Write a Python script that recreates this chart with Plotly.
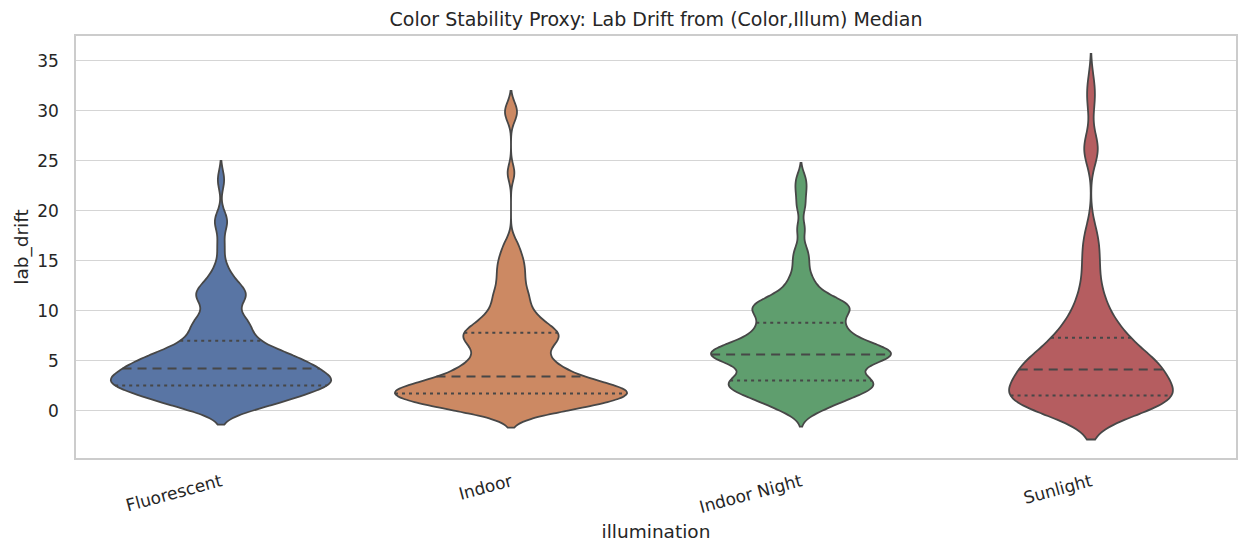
import numpy as np
import plotly.graph_objects as go

illuminations = ['Fluorescent', 'Indoor', 'Indoor Night', 'Sunlight']
colors = ['#5975a4', '#cc8963', '#5f9e6e', '#b55d60']
edge = '#474747'

# lab drift values and number of samples with that value
fluorescent_drift = [0.5, 1.0, 1.5, 2.0, 2.5, 3.0, 3.5, 4.2, 4.5, 5.0, 5.5, 6.0, 6.5, 7.0, 7.5, 8.0,
                     8.5, 9.0, 9.5, 10.0, 11.0, 11.5, 12.0, 12.5, 13.0, 13.5, 14.5, 16.5, 18.7, 19.2, 23.1]
fluorescent_count = [6, 5, 4, 6, 9, 10, 8, 6, 6, 6, 5, 4, 3, 2, 2, 2,
                     2, 3, 1, 1, 2, 3, 2, 1, 1, 1, 1, 1, 1, 1, 1]

indoor_drift = [0.0, 0.5, 1.0, 1.7, 2.0, 2.5, 3.0, 3.4, 4.0, 4.5, 5.0, 5.5, 6.0, 6.5, 7.0, 7.4, 7.8, 8.3,
                8.8, 9.3, 9.8, 10.3, 10.8, 11.3, 11.8, 12.3, 12.8, 13.3, 13.8, 14.3, 14.8, 15.3, 16.0,
                16.8, 23.8, 29.5, 30.3]
indoor_count = [5, 7, 8, 11, 9, 6, 5, 5, 4, 4, 2, 3, 2, 3, 3, 3, 4, 3,
                2, 2, 2, 1, 1, 2, 1, 1, 1, 1, 1, 1, 1, 1, 1,
                1, 1, 1, 1]

night_drift = [0.0, 0.5, 1.0, 1.5, 2.0, 2.5, 3.0, 3.5, 4.0, 4.5, 5.0, 5.6, 6.0, 6.5, 7.0, 7.5, 8.0, 8.5,
               8.8, 9.5, 10.0, 10.5, 11.0, 11.5, 12.0, 12.5, 13.0, 13.5, 14.5, 15.3, 16.2, 18.2, 20.5,
               22.0, 23.2]
night_count = [2, 2, 3, 4, 5, 6, 6, 4, 3, 4, 6, 10, 5, 5, 5, 3, 3, 2,
               4, 2, 5, 4, 3, 2, 1, 1, 1, 1, 1, 1, 1, 1, 1,
               1, 1]

sunlight_drift = [0.2, 0.5, 1.0, 1.5, 2.0, 2.5, 3.0, 3.5, 4.1, 4.5, 5.0, 5.5, 6.0, 6.5, 7.3, 8.0,
                  8.5, 9.0, 10.0, 11.0, 12.0, 13.0, 14.0, 15.0, 16.0, 17.0, 18.0, 25.8, 26.2, 26.6,
                  30.8, 32.6]
sunlight_count = [7, 5, 6, 6, 5, 4, 4, 3, 5, 5, 5, 3, 2, 2, 5, 2,
                  1, 2, 2, 2, 1, 1, 1, 1, 1, 1, 1, 1, 1, 1,
                  1, 1]

bandwidths = [0.95, 0.85, 0.8, 1.55]

samples = [np.repeat(fluorescent_drift, fluorescent_count),
           np.repeat(indoor_drift, indoor_count),
           np.repeat(night_drift, night_count),
           np.repeat(sunlight_drift, sunlight_count)]


def kde(vals, bw, t):
    z = (np.asarray(t)[..., None] - vals) / bw
    return np.exp(-0.5 * z ** 2).sum(axis=-1) / (np.sqrt(2 * np.pi) * len(vals) * bw)


# peak density of each violin, on the same grid plotly uses
peaks = []
for vals, bw in zip(samples, bandwidths):
    lo, hi = vals.min() - 2 * bw, vals.max() + 2 * bw
    n = int(np.ceil((hi - lo) / (bw / 3)))
    peaks.append(kde(vals, bw, np.linspace(lo, hi, n + 1)).max())
top_peak = max(peaks)

fig = go.Figure()
for i, name in enumerate(illuminations):
    fig.add_trace(go.Violin(y=samples[i], x0=i, name=name, bandwidth=bandwidths[i],
                            spanmode='soft', scalemode='width', width=0.8 * peaks[i] / top_peak,
                            points=False, box_visible=False, meanline_visible=False,
                            fillcolor=colors[i], opacity=1, line=dict(color=edge, width=1.8),
                            hoverinfo='skip', showlegend=False))

# quartile lines inside the violins (seaborn inner='quartile')
for i, vals in enumerate(samples):
    q = np.percentile(vals, [25, 50, 75])
    half = 0.4 * kde(vals, bandwidths[i], q) / top_peak
    for k in range(3):
        fig.add_trace(go.Scatter(x=[i - half[k], i + half[k]], y=[q[k], q[k]], mode='lines',
                                 line=dict(color=edge, width=2, dash='9px,6px' if k == 1 else '3px,4px'),
                                 hoverinfo='skip', showlegend=False))

fig.update_layout(
    width=1238, height=542,
    margin=dict(l=76, r=2, t=36, b=84, autoexpand=False),
    paper_bgcolor='white', plot_bgcolor='white',
    font=dict(family='DejaVu Sans', size=17, color='#262626'),
    title=dict(text='Color Stability Proxy: Lab Drift from (Color,Illum) Median',
               xref='paper', x=0.5, xanchor='center', yref='container', y=0.965, yanchor='middle',
               font=dict(size=19), automargin=False),
    violinmode='overlay',
    showlegend=False,
)
fig.update_xaxes(range=[-0.5, 3.5], tickvals=[0, 1, 2, 3], ticktext=illuminations, tickangle=-15,
                 showgrid=False, zeroline=False, showline=True, mirror=True, linecolor='#cccccc',
                 linewidth=1.5, ticks='', ticklabelstandoff=6, automargin=False,
                 title=dict(text='illumination', font=dict(size=18.5), standoff=10))
fig.update_yaxes(range=[-4.75, 37.5], tick0=0, dtick=5, showgrid=True, gridcolor='#d5d5d5',
                 gridwidth=1, zeroline=False, showline=True, mirror=True, linecolor='#cccccc',
                 linewidth=1.5, ticks='', ticklabelstandoff=12, automargin=False,
                 title=dict(text='lab_drift', font=dict(size=18.5), standoff=4))

fig.write_html('out.html', config={'displayModeBar': False},
               post_script="document.body.style.margin = '0';")
